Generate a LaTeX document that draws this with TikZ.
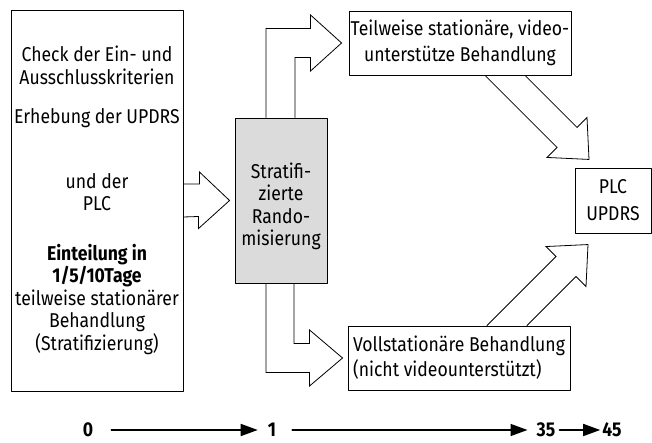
\documentclass[tikz,border=0pt]{standalone}
\usepackage{fontspec}
\setmainfont{Fira Sans}[FakeStretch=0.88]
\usetikzlibrary{calc,arrows.meta}

\tikzset{
  box/.style={draw, line width=0.9pt, inner sep=0pt},
  hollow/.style={draw, line width=0.8pt, line join=miter},
  tnum/.style={inner sep=0pt, font=\fontsize{20}{22.5}\selectfont\bfseries},
  timeline/.style={line width=1.6pt, -{Triangle[length=17pt,width=12pt]}},
}

\begin{document}
\begin{tikzpicture}[x=1pt,y=1pt,line cap=round,line join=round,font=\fontsize{20}{22.5}\selectfont]
\useasboundingbox (0,0) rectangle (652,443);
% boxes
\node[box, minimum width=172, minimum height=381, align=center] (check) at (97,242.5)
  {Check der Ein- und\\ Ausschlusskriterien\\[17pt] Erhebung der UPDRS\\[42pt] und der\\ PLC\\[27pt]
   \textbf{Einteilung in}\\ \textbf{1/5/10Tage}\\ teilweise stationärer\\ Behandlung\\ (Stratifizierung)};
\node[box, fill=black!14, minimum width=92, minimum height=165] (strat) at (281,242.5) {};
\node[align=center, inner sep=0pt] (strattext) at ([yshift=-6pt]strat.center)
  {Stratifi-\\ zierte\\ Rando-\\ misierung};
\node[box, minimum width=222, minimum height=64, align=center,
  font=\fontsize{20}{26}\selectfont] (vidbox) at (460,400)
  {Teilweise stationäre, video-\\ unterstütze Behandlung};
\node[box, minimum width=222, minimum height=64, align=left,
  font=\fontsize{20}{25}\selectfont] (fullbox) at (459,85)
  {Vollstationäre Behandlung\\ (nicht videounterstützt)};
\node[box, minimum width=76, minimum height=65, align=center,
  font=\fontsize{20}{27}\selectfont] (outcome) at (613,242.5) {PLC\\ UPDRS};

% hollow arrows
\draw[hollow] ([yshift=16.5pt]check.east) -- ++(16,0) -- ++(0,12) -- ([xshift=-5pt]strat.west)
  -- ++(-31,-28) -- ++(0,12) -- ([yshift=-16.5pt]check.east);
\draw[hollow] ([xshift=-15pt]strat.north) |- ([xshift=-38pt,yshift=14.5pt]vidbox.west)
  -- ++(0,13.5) -- ([xshift=-7pt]vidbox.west) -- ++(-31,-28) -- ++(0,13.5)
  -| ([xshift=14pt]strat.north);
\draw[hollow] ([xshift=-15pt]strat.south) |- ([xshift=-38pt,yshift=-14.5pt]fullbox.west)
  -- ++(0,-13.5) -- ([xshift=-5pt]fullbox.west) -- ++(-33,28) -- ++(0,-13.5)
  -| ([xshift=13pt]strat.south);
\draw[hollow] ([xshift=25pt]vidbox.south) -- ++(72,-72) -- ++(-10,-10) -- ++(42,-2)
  -- ++(-2,42) -- ++(-10,-10) -- ([xshift=65pt]vidbox.south);
\draw[hollow] ([xshift=28pt]fullbox.north) -- ++(69,69) -- ++(-10,10) -- ++(42,2)
  -- ++(-2,-42) -- ++(-10,10) -- ([xshift=68pt]fullbox.north);

% time line
\node[tnum] (t0) at (88,13) {0};
\node[tnum] (t1) at (272,13) {1};
\node[tnum] (t35) at (546,13) {35};
\node[tnum] (t45) at (612,13) {45};
\draw[timeline, shorten <=18pt, shorten >=10pt] (t0) -- (t1);
\draw[timeline, shorten <=16pt, shorten >=9pt] (t1) -- (t35);
\draw[timeline, shorten <=4pt, shorten >=2pt] (t35) -- (t45);
\end{tikzpicture}
\end{document}
